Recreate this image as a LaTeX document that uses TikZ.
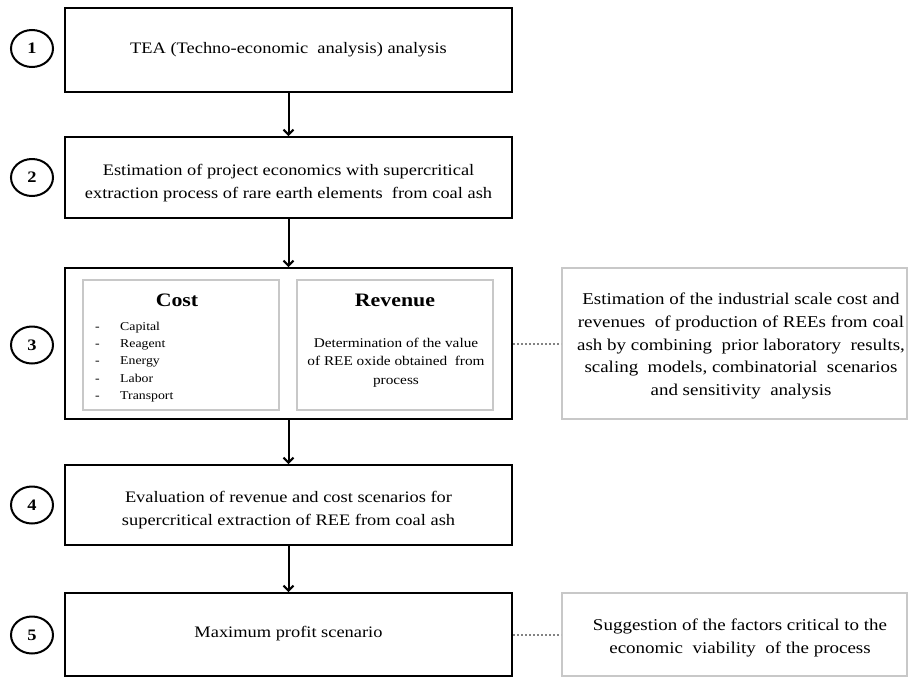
\documentclass[tikz,border=0pt]{standalone}
\usepackage{fontspec}
\setmainfont{Liberation Serif}[FakeStretch=1.15]
\usetikzlibrary{arrows.meta,shapes.geometric}
\definecolor{boxgray}{RGB}{200,200,200}
\definecolor{dotgray}{RGB}{130,130,130}
\tikzset{
  stagebox/.style={draw=black, line width=2pt, minimum width=447pt, inner sep=0pt},
  stagetext/.style={align=center, inner sep=0pt, font=\fontsize{16}{23}\selectfont},
  subbox/.style={draw=boxgray, line width=2pt, minimum width=196pt, minimum height=130pt, inner sep=0pt},
  notebox/.style={draw=boxgray, line width=2pt, minimum width=345pt, inner sep=0pt},
  notetext/.style={align=center, inner sep=0pt, font=\fontsize{16.5}{22.8}\selectfont},
  stepnum/.style={ellipse, draw=black, line width=2pt, minimum width=42pt, minimum height=37pt, inner sep=0pt,
    font=\fontsize{16}{16}\selectfont\bfseries},
  flow/.style={line width=2pt, -{Straight Barb[length=5pt,width=10pt,line width=2pt]}},
  link/.style={draw=dotgray, line width=2pt, dotted},
}
\begin{document}
\begin{tikzpicture}[x=1pt,y=-1pt]
\useasboundingbox (0,0) rectangle (908,678);

% main stages
\node[stagebox, minimum height=84pt] (s1) at (288.5,50) {};
\node[stagebox, minimum height=81pt] (s2) at (288.5,177.5) {};
\node[stagebox, minimum height=151pt] (s3) at (288.5,343.5) {};
\node[stagebox, minimum height=80pt] (s4) at (288.5,505) {};
\node[stagebox, minimum height=83pt] (s5) at (288.5,634.5) {};

\node[stagetext] (t1) at (288.5,50) {TEA (Techno-economic\ \ analysis)\ analysis};
\node[stagetext] (t2) at (288.5,183) {Estimation of project economics with supercritical\\extraction process of rare earth elements\ \ from coal ash};
\node[stagetext] (t4) at (288.5,510.5) {Evaluation of revenue and cost scenarios for\\supercritical extraction of REE from coal ash};
\node[stagetext] (t5) at (288.5,634) {Maximum profit scenario};

% cost and revenue panels inside stage 3
\node[subbox] (cost) at (181,345) {};
\node[subbox] (rev) at (395,345) {};
\node[font=\fontsize{19}{19}\selectfont\bfseries] (costtitle) at (177,300) {Cost};
\node[font=\fontsize{19}{19}\selectfont\bfseries] (revtitle) at (395,300) {Revenue};
\node[anchor=north west, align=left, inner sep=0pt, font=\fontsize{12}{17.2}\selectfont] (costlist) at (95,322)
  {\makebox[25pt][l]{-}Capital\\\makebox[25pt][l]{-}Reagent\\\makebox[25pt][l]{-}Energy\\\makebox[25pt][l]{-}Labor\\\makebox[25pt][l]{-}Transport};
\node[align=center, inner sep=0pt, font=\fontsize{13.3}{18.3}\selectfont] (revtext) at (396,362.5)
  {Determination of the value\\of REE oxide obtained\ \ from\\process};

% notes on the right
\node[notebox, minimum height=151pt] (n3) at (734.5,343.5) {};
\node[notebox, minimum height=83pt] (n5) at (734.5,634.5) {};
\node[notetext] (m3) at (741,346) {Estimation of the industrial scale cost and\\revenues\ \ of production of REEs from coal\\ash by combining\ \ prior laboratory\ \ results,\\scaling\ \ models, combinatorial\ \ scenarios\\and sensitivity\ \ analysis};
\node[notetext] (m5) at (740,638) {Suggestion of the factors critical to the\\economic\ \ viability\ \ of the process};

% step numbers
\node[stepnum] (c1) at (32,48.5) {1};
\node[stepnum] (c2) at (32,177.5) {2};
\node[stepnum] (c3) at (32,345) {3};
\node[stepnum] (c4) at (32,505) {4};
\node[stepnum] (c5) at (32,635) {5};

% flow arrows
\draw[flow] (s1.south) -- (s2.north);
\draw[flow] (s2.south) -- (s3.north);
\draw[flow] (s3.south) -- (s4.north);
\draw[flow] (s4.south) -- (s5.north);

% dotted links to notes
\draw[link] (s3.east) -- (n3.west);
\draw[link] (s5.east) -- (n5.west);
\end{tikzpicture}
\end{document}
